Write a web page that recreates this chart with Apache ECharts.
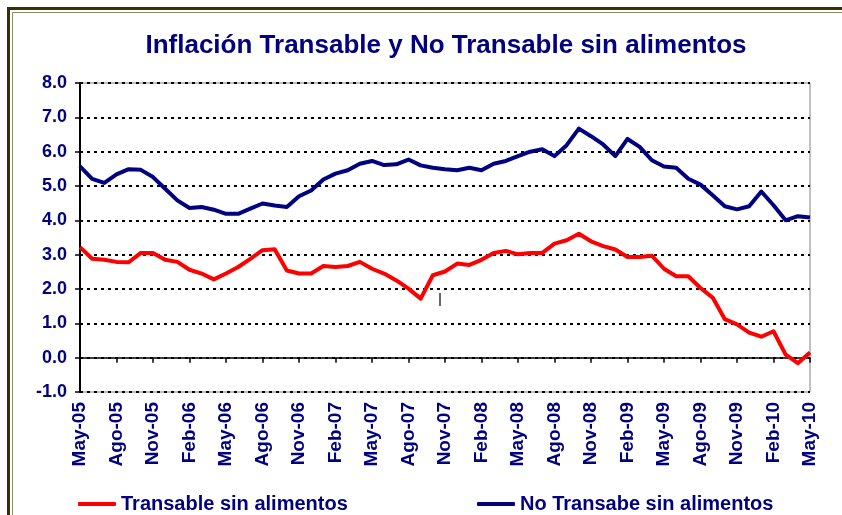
<!DOCTYPE html>
<html>
<head>
<meta charset="utf-8">
<title>Inflación Transable y No Transable sin alimentos</title>
<script src="https://cdn.jsdelivr.net/npm/echarts@6/dist/echarts.min.js"></script>
<style>
  html, body { margin: 0; padding: 0; background: #fff; }
  #chart { width: 842px; height: 515px; }
</style>
</head>
<body>
<div id="chart"></div>
<script>
// meses (may-05 .. may-10)
var months = [
  'May-05','Jun-05','Jul-05','Ago-05','Sep-05','Oct-05','Nov-05','Dic-05',
  'Ene-06','Feb-06','Mar-06','Abr-06','May-06','Jun-06','Jul-06','Ago-06','Sep-06','Oct-06','Nov-06','Dic-06',
  'Ene-07','Feb-07','Mar-07','Abr-07','May-07','Jun-07','Jul-07','Ago-07','Sep-07','Oct-07','Nov-07','Dic-07',
  'Ene-08','Feb-08','Mar-08','Abr-08','May-08','Jun-08','Jul-08','Ago-08','Sep-08','Oct-08','Nov-08','Dic-08',
  'Ene-09','Feb-09','Mar-09','Abr-09','May-09','Jun-09','Jul-09','Ago-09','Sep-09','Oct-09','Nov-09','Dic-09',
  'Ene-10','Feb-10','Mar-10','Abr-10','May-10'
];

// Transable sin alimentos (rojo)
var transable = [
  3.22, 2.88, 2.85, 2.79, 2.78, 3.05, 3.05, 2.85,
  2.79, 2.56, 2.45, 2.28, 2.45, 2.64, 2.88, 3.13, 3.16, 2.54, 2.45, 2.45,
  2.67, 2.64, 2.67, 2.79, 2.59, 2.45, 2.25, 2.01, 1.72, 2.40, 2.51, 2.74,
  2.70, 2.85, 3.05, 3.11, 3.01, 3.05, 3.05, 3.32, 3.42, 3.61, 3.39, 3.25,
  3.15, 2.93, 2.93, 2.97, 2.59, 2.37, 2.37, 2.03, 1.75, 1.12, 0.97, 0.73,
  0.61, 0.77, 0.09, -0.16, 0.15
];

// No Transable sin alimentos (azul)
var noTransable = [
  5.57, 5.21, 5.09, 5.34, 5.49, 5.47, 5.26, 4.92,
  4.58, 4.36, 4.39, 4.31, 4.19, 4.19, 4.34, 4.49, 4.43, 4.39, 4.70, 4.87,
  5.19, 5.36, 5.46, 5.65, 5.73, 5.61, 5.63, 5.77, 5.60, 5.53, 5.49, 5.46,
  5.53, 5.46, 5.65, 5.73, 5.87, 6.00, 6.07, 5.87, 6.19, 6.67, 6.45, 6.21,
  5.87, 6.37, 6.14, 5.75, 5.57, 5.53, 5.21, 5.04, 4.73, 4.41, 4.32, 4.41,
  4.84, 4.44, 4.00, 4.12, 4.08
];

var NAVY = '#000080';
var FONT = "'Liberation Sans', Arial, sans-serif";

var chart = echarts.init(document.getElementById('chart'), null, { renderer: 'canvas' });

var option = {
  backgroundColor: '#ffffff',
  animation: false,
  title: {
    text: 'Inflación Transable y No Transable sin alimentos',
    left: 441,
    top: 28,
    textAlign: 'center',
    textStyle: { color: NAVY, fontSize: 26, fontWeight: 'bold', fontFamily: FONT }
  },
  legend: [
    {
      data: ['Transable sin alimentos'],
      left: 73, top: 489,
      icon: 'roundRect', itemWidth: 38, itemHeight: 4,
      textStyle: { color: NAVY, fontSize: 20, fontWeight: 'bold', fontFamily: FONT }
    },
    {
      data: ['No Transabe sin alimentos'],
      left: 472, top: 489,
      icon: 'roundRect', itemWidth: 38, itemHeight: 4,
      textStyle: { color: NAVY, fontSize: 20, fontWeight: 'bold', fontFamily: FONT }
    }
  ],
  grid: {
    left: 80, right: 32, top: 83, bottom: 123,
    show: true, borderColor: '#808080', borderWidth: 1, backgroundColor: 'transparent'
  },
  xAxis: [
    {
      // eje en cero: linea y marcas
      type: 'category',
      data: months,
      boundaryGap: false,
      axisLine: { show: true, onZero: true, lineStyle: { color: '#000', width: 1.5 } },
      axisTick: { show: true, interval: 2, length: 5, lineStyle: { color: '#000', width: 1.5 } },
      axisLabel: { show: false },
      splitLine: { show: false }
    },
    {
      // etiquetas abajo
      type: 'category',
      data: months,
      boundaryGap: false,
      position: 'bottom',
      axisLine: { show: false, onZero: false },
      axisTick: { show: false },
      axisLabel: {
        show: true, interval: 2, rotate: 90, margin: 10,
        color: NAVY, fontSize: 19, fontWeight: 'bold', fontFamily: FONT
      },
      splitLine: { show: false }
    }
  ],
  yAxis: {
    type: 'value',
    min: -1, max: 8, interval: 1,
    axisLine: { show: true, lineStyle: { color: '#000', width: 2 } },
    axisTick: { show: true, length: 5, lineStyle: { color: '#000', width: 1.5 } },
    axisLabel: {
      margin: 13,
      color: NAVY, fontSize: 18, fontWeight: 'bold', fontFamily: FONT,
      formatter: function (v) { return v.toFixed(1); }
    },
    splitLine: { show: true, lineStyle: { color: '#000', width: 2, type: [3, 4] } }
  },
  series: [
    {
      name: 'Transable sin alimentos',
      type: 'line',
      xAxisIndex: 0,
      data: transable,
      symbol: 'none',
      color: '#ff0000',
      lineStyle: { color: '#ff0000', width: 4, join: 'round' },
      z: 3
    },
    {
      name: 'No Transabe sin alimentos',
      type: 'line',
      xAxisIndex: 0,
      data: noTransable,
      symbol: 'none',
      color: NAVY,
      lineStyle: { color: NAVY, width: 4, join: 'round' },
      z: 3
    }
  ],
  graphic: [
    // marco exterior
    { type: 'rect', shape: { x: 8.5, y: 8.5, width: 900, height: 600 },
      style: { fill: 'none', stroke: '#333300', lineWidth: 3 }, silent: true },
    { type: 'rect', shape: { x: 12.5, y: 12.5, width: 900, height: 600 },
      style: { fill: 'none', stroke: '#8a8a6a', lineWidth: 1 }, silent: true },
    // marca suelta
    { type: 'line', shape: { x1: 440, y1: 293, x2: 440, y2: 306 },
      style: { stroke: '#333', lineWidth: 1.5 }, silent: true }
  ]
};

chart.setOption(option);
window.addEventListener('resize', function () { chart.resize(); });
</script>
</body>
</html>
